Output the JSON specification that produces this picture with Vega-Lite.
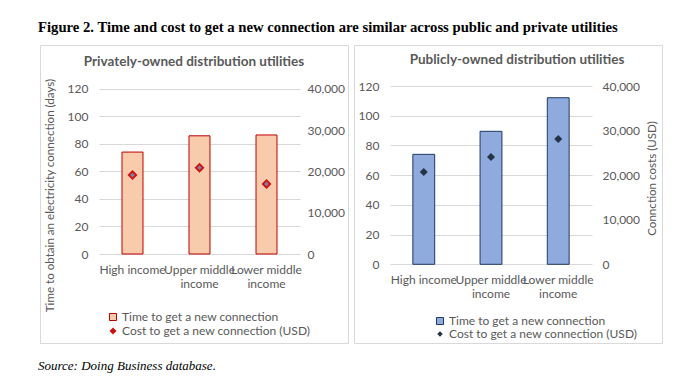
{
  "$schema": "https://vega.github.io/schema/vega-lite/v6.json",
  "background": "white",
  "padding": {"left": 38, "top": 19, "right": 10, "bottom": 5},
  "title": {
    "text": "Figure 2. Time and cost to get a new connection are similar across public and private utilities",
    "anchor": "start", "frame": "group", "font": "Liberation Serif", "fontSize": 14.7, "fontWeight": "bold",
    "color": "#000000", "offset": 10, "dx": -2
  },
  "datasets": {
    "d": [
      {"panel": "private", "income": "High income", "time": 74, "cost": 19100},
      {"panel": "private", "income": "Upper middle income", "time": 85.8, "cost": 20900},
      {"panel": "private", "income": "Lower middle income", "time": 86.4, "cost": 16950},
      {"panel": "public", "income": "High income", "time": 74, "cost": 20700},
      {"panel": "public", "income": "Upper middle income", "time": 89.5, "cost": 24070},
      {"panel": "public", "income": "Lower middle income", "time": 112.1, "cost": 28100}
    ]
  },
  "config": {
    "view": {"stroke": "#D9D9D9", "strokeWidth": 1},
    "axis": {
      "labelFont": "Lato", "labelFontSize": 12, "labelColor": "#595959",
      "domain": false, "ticks": false, "gridColor": "#D9D9D9", "gridWidth": 1,
      "titleFont": "Lato", "titleFontSize": 11.6, "titleFontWeight": "normal", "titleColor": "#595959"
    },
    "legend": {"labelFont": "Lato", "labelFontSize": 12, "labelColor": "#595959", "padding": 0, "labelLimit": 400}
  },
  "vconcat": [
    {
      "hconcat": [
        {
          "width": 308, "height": 298,
          "title": {"text": "Privately-owned distribution utilities", "orient": "top", "anchor": "middle", "frame": "group",
            "offset": -30, "baseline": "middle", "font": "Lato", "fontSize": 13.5, "fontWeight": "bold", "color": "#595959"},
          "data": {"name": "d"},
          "transform": [{"filter": "datum.panel == 'private'"}],
          "encoding": {
            "x": {"field": "income", "type": "nominal", "sort": ["High income", "Upper middle income", "Lower middle income"],
              "scale": {"range": [59, 260], "paddingInner": 0.687, "paddingOuter": 0.3435},
              "axis": {"title": null, "orient": "bottom", "offset": -89, "labelPadding": 10, "labelOverlap": false, "labelLineHeight": 14,
                "labelAngle": 0, "grid": false,
                "labelExpr": "datum.value == 'High income' ? datum.value : [slice(datum.value, 0, 12), 'income']"}}
          },
          "layer": [
            {
              "mark": {"type": "bar", "stroke": "#C00000", "strokeWidth": 1},
              "encoding": {
                "y": {"field": "time", "type": "quantitative",
                  "scale": {"domain": [0, 120], "range": [209, 43.7], "nice": false},
                  "axis": {"orient": "left", "offset": -59, "values": [0, 20, 40, 60, 80, 100, 120], "grid": true, "labelPadding": 11,
                    "title": "Time to obtain an electricity connection (days)", "titleX": -49, "titleY": 150, "titleAngle": 270, "titleBaseline": "middle"}},
                "fill": {"datum": "Time to get a new connection", "scale": {"range": ["#F8CBAD"]},
                  "legend": {"orient": "none", "legendX": 67, "legendY": 266, "title": null, "symbolType": "square", "symbolSize": 49,
                    "symbolStrokeColor": "#C00000", "symbolStrokeWidth": 1, "labelOffset": 3}}
              }
            },
            {
              "mark": {"type": "point", "filled": true, "fill": "#D01010", "strokeWidth": 0, "size": 100, "opacity": 1},
              "encoding": {
                "y": {"field": "cost", "type": "quantitative",
                  "scale": {"domain": [0, 40000], "range": [209, 43.7], "nice": false},
                  "axis": {"orient": "right", "offset": -48, "values": [0, 10000, 20000, 30000, 40000], "format": ",.0f", "grid": false, "labelPadding": 7, "title": null}},
                "shape": {"datum": "Cost to get a new connection (USD)", "scale": {"range": ["diamond"]},
                  "legend": {"orient": "none", "legendX": 67, "legendY": 280, "title": null, "symbolSize": 49,
                    "symbolFillColor": "#D01010", "symbolStrokeWidth": 0, "labelOffset": 3}}
              }
            },
            {
              "mark": {"type": "point", "shape": "diamond", "filled": true, "fill": "#8080A8", "strokeWidth": 0, "size": 22, "opacity": 1},
              "encoding": {
                "y": {"field": "cost", "type": "quantitative",
                  "scale": {"domain": [0, 40000], "range": [209, 43.7], "nice": false}, "axis": null}
              }
            }
          ],
          "resolve": {"scale": {"y": "independent"}, "axis": {"y": "independent"}}
        },
        {
          "width": 308, "height": 298,
          "title": {"text": "Publicly-owned distribution utilities", "orient": "top", "anchor": "middle", "frame": "group",
            "offset": -28, "dx": 9, "baseline": "middle", "font": "Lato", "fontSize": 13.5, "fontWeight": "bold", "color": "#595959"},
          "data": {"name": "d"},
          "transform": [{"filter": "datum.panel == 'public'"}],
          "encoding": {
            "x": {"field": "income", "type": "nominal", "sort": ["High income", "Upper middle income", "Lower middle income"],
              "scale": {"range": [36, 238], "paddingInner": 0.675, "paddingOuter": 0.34},
              "axis": {"title": null, "orient": "bottom", "offset": -79, "labelPadding": 10, "labelOverlap": false, "labelLineHeight": 14,
                "labelAngle": 0, "grid": false,
                "labelExpr": "datum.value == 'High income' ? datum.value : [slice(datum.value, 0, 12), 'income']"}}
          },
          "layer": [
            {
              "mark": {"type": "bar", "stroke": "#1F3864", "strokeWidth": 1},
              "encoding": {
                "y": {"field": "time", "type": "quantitative",
                  "scale": {"domain": [0, 120], "range": [219.3, 41], "nice": false},
                  "axis": {"orient": "left", "offset": -36, "values": [0, 20, 40, 60, 80, 100, 120], "grid": true, "labelPadding": 11, "title": null}},
                "fill": {"datum": "Time to get a new connection", "scale": {"range": ["#8FAADC"]},
                  "legend": {"orient": "none", "legendX": 80, "legendY": 270, "title": null, "symbolType": "square", "symbolSize": 49,
                    "symbolStrokeColor": "#1F3864", "symbolStrokeWidth": 1, "labelOffset": 3}}
              }
            },
            {
              "mark": {"type": "point", "filled": true, "fill": "#243447", "strokeWidth": 0, "size": 64, "opacity": 1},
              "encoding": {
                "y": {"field": "cost", "type": "quantitative",
                  "scale": {"domain": [0, 40000], "range": [219.3, 41], "nice": false},
                  "axis": {"orient": "right", "offset": -70, "values": [0, 10000, 20000, 30000, 40000], "format": ",.0f", "grid": false, "labelPadding": 10,
                    "title": "Connction costs (USD)", "titleX": 60, "titleY": 133, "titleAngle": 270, "titleBaseline": "middle"}},
                "shape": {"datum": "Cost to get a new connection (USD)", "scale": {"range": ["diamond"]},
                  "legend": {"orient": "none", "legendX": 80, "legendY": 283, "title": null, "symbolSize": 30,
                    "symbolFillColor": "#243447", "symbolStrokeWidth": 0, "labelOffset": 3}}
              }
            }
          ],
          "resolve": {"scale": {"y": "independent"}, "axis": {"y": "independent"}}
        }
      ],
      "spacing": 6,
      "bounds": "flush",
      "resolve": {"scale": {"x": "independent", "y": "independent", "fill": "independent", "shape": "independent"},
        "legend": {"fill": "independent", "shape": "independent"}},
      "title": {"text": "Source: Doing Business database.", "orient": "bottom", "anchor": "start", "frame": "group",
        "font": "Liberation Serif", "fontStyle": "italic", "fontWeight": "normal", "fontSize": 13, "color": "#000000", "offset": 16, "dx": -2}
    }
  ]
}
